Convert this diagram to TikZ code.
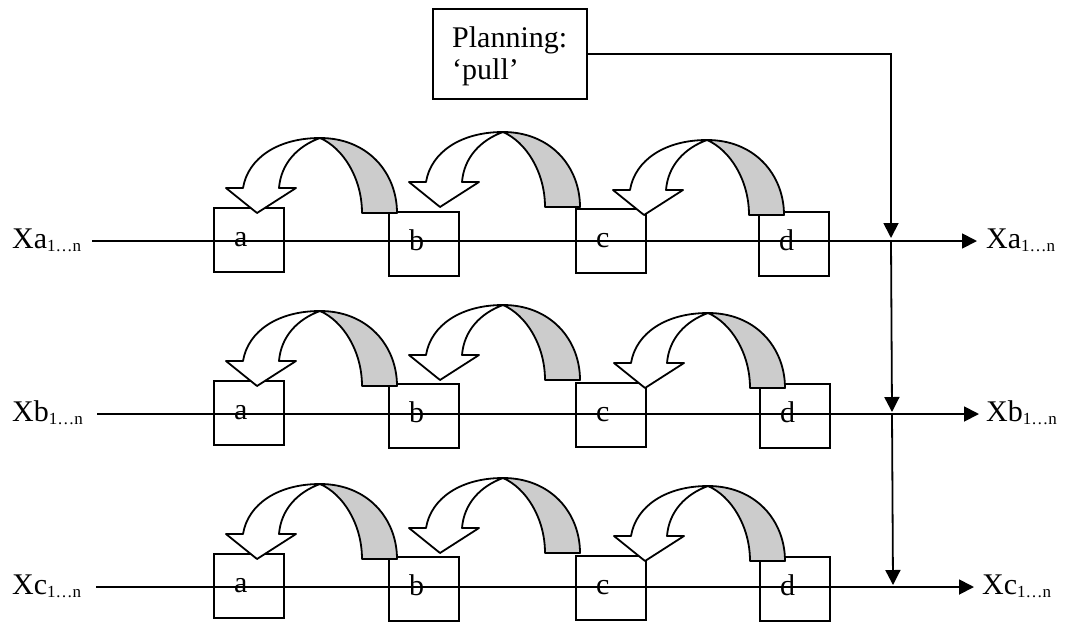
\documentclass[tikz,border=0pt]{standalone}
\usepackage{fontspec}
\setmainfont{Liberation Serif}
\usetikzlibrary{arrows.meta}
\definecolor{shade}{RGB}{204,204,204}
\newcommand\idx[1]{{\fontsize{17}{17}\selectfont\raisebox{-3pt}{#1}}}
\newcommand\uturnarrow[2]{%
  \begin{scope}[shift={(#1,#2)}]
    \filldraw[ribbon, fill=shade] (77,0) .. controls (125,0) and (154,35) .. (154,75)
      -- (119,75) .. controls (119,40) and (100,10) .. (77,0) -- cycle;
    \filldraw[ribbon, fill=white] (77,0) .. controls (35,0) and (5,20) .. (0,50)
      -- (-17,50) -- (14,75) -- (53,50) -- (36,50)
      .. controls (38,25) and (55,8) .. (77,0) -- cycle;
  \end{scope}}
\begin{document}
\begin{tikzpicture}[x=1pt,y=-1pt,
  conn/.style={line width=1.8pt},
  tip/.style={-{Triangle[width=15pt,length=15pt]}},
  ribbon/.style={line width=1.8pt, line join=round},
  boxnode/.style={draw, line width=1.8pt, minimum width=70pt, minimum height=64pt, anchor=north west, inner sep=0pt, outer sep=0pt},
  txt/.style={font=\fontsize{30}{34}\selectfont, inner sep=0pt, anchor=base west}]
\useasboundingbox (0,0) rectangle (1065,622);

% planning box
\node[draw, line width=1.8pt, minimum width=154pt, minimum height=90pt, anchor=north west, inner sep=0pt, outer sep=0pt] (plan) at (433,9) {};
\node[txt] (plan1) at (452,47) {Planning:};
\node[txt] (plan2) at (452,79) {‘pull’};

% row labels
\node[txt] (LA) at (12,248) {Xa\idx{1…n}};
\node[txt] (LB) at (12,421) {Xb\idx{1…n}};
\node[txt] (LC) at (12,594) {Xc\idx{1…n}};
\node[txt] (RA) at (986,248) {Xa\idx{1…n}};
\node[txt] (RB) at (986,421) {Xb\idx{1…n}};
\node[txt] (RC) at (982,594) {Xc\idx{1…n}};

\coordinate (sA) at (92,241);
\coordinate (sB) at (97,414);
\coordinate (sC) at (96,587);
\coordinate (eA) at (977,241);
\coordinate (eB) at (979,414);
\coordinate (eC) at (974,587);
\coordinate (jA) at (891,241);
\coordinate (jB) at (892,414);
\coordinate (jC) at (893,587);

\draw[conn, tip] (sA) -- (eA);
\draw[conn, tip] (sB) -- (eB);
\draw[conn, tip] (sC) -- (eC);

\draw[conn, tip] (plan.east) -| ([yshift=3pt]jA);
\draw[conn, tip] (jA) -- ([yshift=2pt]jB);
\draw[conn, tip] (jB) -- ([yshift=2pt]jC);

% boxes row 1
\node[boxnode] (A1) at (214,208) {};
\node[boxnode] (B1) at (389,212) {};
\node[boxnode] (C1) at (576,209) {};
\node[boxnode] (D1) at (759,212) {};
% row 2
\node[boxnode] (A2) at (214,381) {};
\node[boxnode] (B2) at (389,384) {};
\node[boxnode] (C2) at (576,383) {};
\node[boxnode] (D2) at (760,384) {};
% row 3
\node[boxnode] (A3) at (214,554) {};
\node[boxnode] (B3) at (389,557) {};
\node[boxnode] (C3) at (576,556) {};
\node[boxnode] (D3) at (760,557) {};

% letters
\node[txt] (ta1) at (234,246) {a};
\node[txt] (tb1) at (409,250) {b};
\node[txt] (tc1) at (596,247) {c};
\node[txt] (td1) at (779,250) {d};
\node[txt] (ta2) at (234,419) {a};
\node[txt] (tb2) at (409,422) {b};
\node[txt] (tc2) at (596,421) {c};
\node[txt] (td2) at (780,422) {d};
\node[txt] (ta3) at (234,592) {a};
\node[txt] (tb3) at (409,595) {b};
\node[txt] (tc3) at (596,594) {c};
\node[txt] (td3) at (780,595) {d};

% curved arrows
\uturnarrow{243}{138}
\uturnarrow{426}{132}
\uturnarrow{630}{140}
\uturnarrow{243}{311}
\uturnarrow{426}{305}
\uturnarrow{631}{313}
\uturnarrow{243}{484}
\uturnarrow{426}{478}
\uturnarrow{631}{486}
\end{tikzpicture}
\end{document}
